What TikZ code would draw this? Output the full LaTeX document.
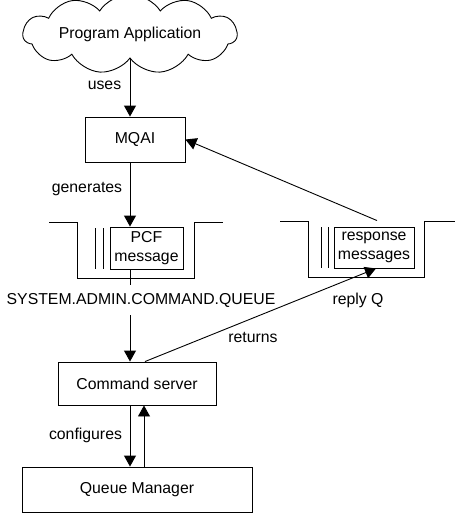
\documentclass[tikz,border=0pt]{standalone}
\usepackage{fontspec}
\setmainfont{Liberation Sans}
\usetikzlibrary{arrows.meta,shapes.symbols,calc}

\begin{document}
\begin{tikzpicture}
[
	x=1pt, y=-1pt,
	line width=0.9pt,
	every node/.style={font=\fontsize{15.8}{19}\selectfont},
	box/.style={draw,rectangle,inner sep=0pt,align=center},
	arr/.style={-{Triangle[length=11pt,width=12pt]}},
	lbl/.style={inner sep=0pt}
]

	\useasboundingbox (0,0) rectangle (460,517);
	\coordinate (spine) at (130,0);
	\coordinate (back) at (144,0);

	% nodes
	\node[draw,cloud,cloud puffs=11,cloud puff arc=115,aspect=4,
		minimum width=214pt,minimum height=52pt,inner sep=0pt] (app) at (130,34) {Program Application};
	\node[box,minimum width=100pt,minimum height=45pt] (mqai) at (135,139.5) {MQAI};
	\node[box,minimum width=73pt,minimum height=42pt] (pcf) at (146.5,248) {PCF\\message};
	\node[box,minimum width=80pt,minimum height=41pt] (resp) at (374,247.5) {response\\messages};
	\node[lbl,minimum height=30pt] (queue) at (141,300) {SYSTEM.ADMIN.COMMAND.QUEUE};
	\node[box,minimum width=158pt,minimum height=43pt] (cmd) at (137,383.5) {Command server};
	\node[box,minimum width=230pt,minimum height=45pt] (qm) at (137,489.5) {Queue Manager};

	% queues
	\draw (49,222) -- (77,222) -- (77,278) -- (194,278) -- (194,222) -- (223,222);
	\draw (95,228) -- (95,269) (103,228) -- (103,269);
	\draw (280,221) -- (308,221) -- (308,277) -- (424,277) -- (424,221) -- (455,221);
	\draw (321,227) -- (321,268) (328,227) -- (328,268);

	% connectors
	\draw[arr] (app.south -| spine) -- (mqai.north -| spine);
	\draw[arr] (mqai.south -| spine) -- (pcf.north -| spine);
	\draw (pcf.south -| spine) -- (queue.north -| spine);
	\draw[arr] (queue.south -| spine) -- (cmd.north -| spine);
	\draw[arr] ($(resp.north)+(3,-6)$) -- (mqai.east);
	\draw[arr] ($(cmd.north)+(8,0)$) -- ($(resp.south)+(2,0)$);
	\draw[arr] (cmd.south -| spine) -- (qm.north -| spine);
	\draw[arr] (qm.north -| back) -- (cmd.south -| back);

	% labels
	\node at (104.5,85) {uses};
	\node at (87,189) {generates};
	\node at (358,300) {reply Q};
	\node at (253,337) {returns};
	\node at (85.5,435) {configures};

\end{tikzpicture}
\end{document}
